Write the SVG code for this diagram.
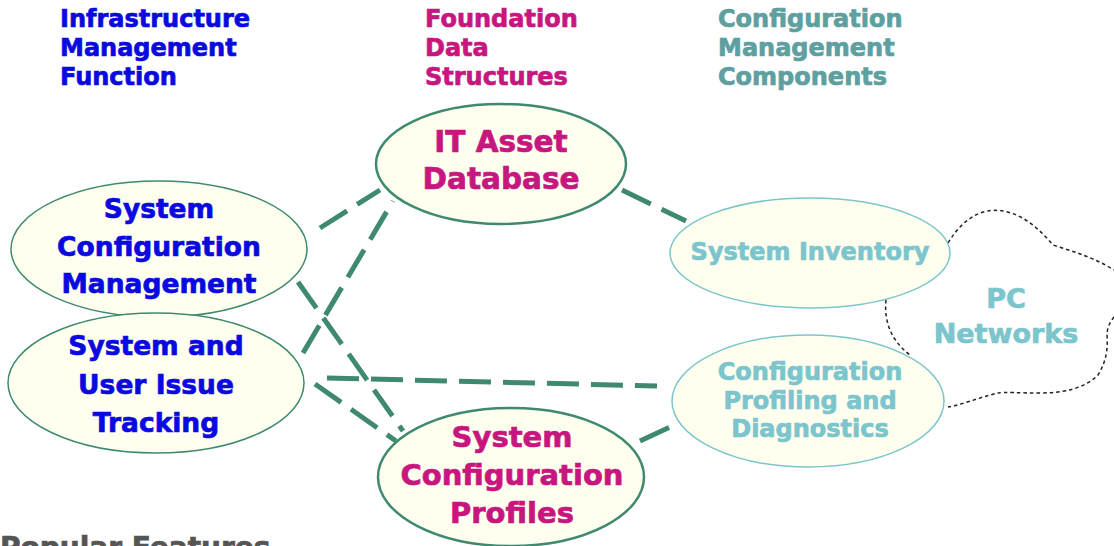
<svg xmlns="http://www.w3.org/2000/svg" width="1114" height="546" viewBox="0 0 1114 546">
<style>
text{font-family:"DejaVu Sans",Verdana,sans-serif;font-weight:bold;text-anchor:middle;stroke-width:0.7}
.hdr{font-size:24px;text-anchor:start}
.blue{fill:#0a0ae0;stroke:#0a0ae0}
.mag{fill:#c8167f;stroke:#c8167f}
.teal{fill:#5e9fa0;stroke:#5e9fa0}
.lt{fill:#7cc5cd;stroke:#7cc5cd}
.core{fill:#fffff0;stroke:#3f8a6e;stroke-width:2.5}
.thin{fill:#fffff0;stroke:#3f8a6e;stroke-width:1.5}
.comp{fill:#fffff0;stroke:#7cc5cd;stroke-width:1.5}
.conn line{stroke:#3f8a6e;stroke-width:5;stroke-dasharray:32 12}
.cloud{fill:none;stroke:#222;stroke-width:1.5;stroke-dasharray:3.5 3}
</style>
<g id="headers">
<text class="hdr blue" x="60" y="27">Infrastructure</text>
<text class="hdr blue" x="60" y="56">Management</text>
<text class="hdr blue" x="60" y="85">Function</text>
<text class="hdr mag" x="425" y="27">Foundation</text>
<text class="hdr mag" x="425" y="56">Data</text>
<text class="hdr mag" x="425" y="85">Structures</text>
<text class="hdr teal" x="718" y="27">Configuration</text>
<text class="hdr teal" x="718" y="56">Management</text>
<text class="hdr teal" x="718" y="85">Components</text>
</g>
<g id="cloud">
<path class="cloud" d="M948,243 C965,215 985,208 1003,211 C1025,215 1040,230 1053,245 C1075,252 1095,258 1114,270"/>
<path class="cloud" d="M1114,317 C1110,322 1107,328 1107,335 C1108,350 1106,362 1098,375 C1085,388 1065,393 1040,393 C1020,393 1005,392 998,393 C980,397 965,404 948,407"/>
<path class="cloud" d="M886,300 C884,320 890,340 910,355"/>
<text class="lt" x="1006" y="308" font-size="27">PC</text>
<text class="lt" x="1006" y="343" font-size="27">Networks</text>
</g>
<g id="connectors" class="conn">
<line x1="320" y1="228" x2="380" y2="190"/>
<line x1="303" y1="353" x2="393" y2="201"/>
<line x1="298" y1="282" x2="403" y2="431"/>
<line x1="327" y1="378" x2="657" y2="386"/>
<line x1="315" y1="384" x2="396" y2="441"/>
<line x1="622" y1="190" x2="686" y2="221"/>
<line x1="640" y1="441" x2="670" y2="427"/>
</g>
<g id="it-asset-database">
<ellipse class="core" cx="501" cy="164" rx="125" ry="60"/>
<text class="mag" x="501" y="152" font-size="29.5">IT Asset</text>
<text class="mag" x="501" y="189" font-size="29.5">Database</text>
</g>
<g id="system-configuration-management">
<ellipse class="thin" cx="159" cy="249" rx="148" ry="68"/>
<text class="blue" x="159" y="218" font-size="26.5">System</text>
<text class="blue" x="159" y="256" font-size="26.5">Configuration</text>
<text class="blue" x="159" y="293" font-size="26.5">Management</text>
</g>
<g id="system-user-issue-tracking">
<ellipse class="thin" cx="156" cy="383" rx="148" ry="70"/>
<text class="blue" x="156" y="355" font-size="26.5">System and</text>
<text class="blue" x="156" y="394" font-size="26.5">User Issue</text>
<text class="blue" x="156" y="432" font-size="26.5">Tracking</text>
</g>
<g id="system-configuration-profiles">
<ellipse class="core" cx="511" cy="477" rx="133" ry="69"/>
<text class="mag" x="512" y="447" font-size="29">System</text>
<text class="mag" x="512" y="485" font-size="29">Configuration</text>
<text class="mag" x="512" y="523" font-size="29">Profiles</text>
</g>
<g id="system-inventory">
<ellipse class="comp" cx="810" cy="253" rx="140" ry="55"/>
<text class="lt" x="810" y="260" font-size="24">System Inventory</text>
</g>
<g id="configuration-profiling-diagnostics">
<ellipse class="comp" cx="808" cy="401" rx="136" ry="66"/>
<text class="lt" x="810" y="380" font-size="24">Configuration</text>
<text class="lt" x="810" y="409" font-size="24">Profiling and</text>
<text class="lt" x="810" y="437" font-size="24">Diagnostics</text>
</g>
<g id="footer">
<text x="0" y="557" font-size="28" fill="#555" stroke="#555" style="text-anchor:start">Popular Features</text>
</g>
</svg>
